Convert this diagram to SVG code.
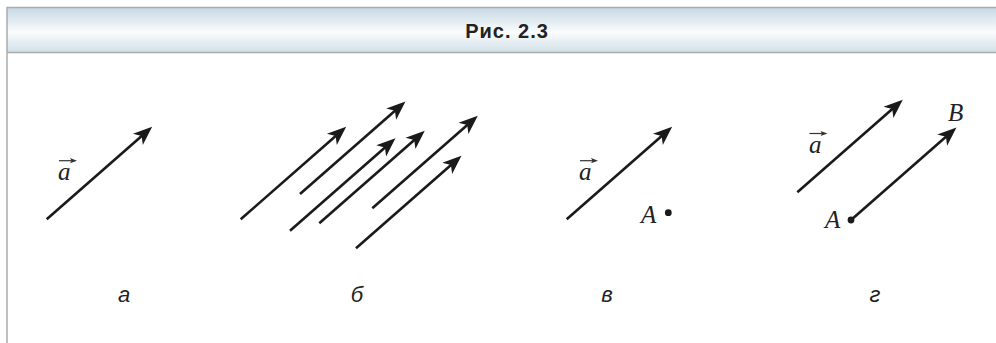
<svg xmlns="http://www.w3.org/2000/svg" width="996" height="343" viewBox="0 0 996 343">
<defs>
<linearGradient id="hdr" x1="0" y1="0" x2="0" y2="1">
<stop offset="0" stop-color="#c6d7e3"/>
<stop offset="0.55" stop-color="#fafcfd"/>
<stop offset="1" stop-color="#d0dee7"/>
</linearGradient>
<marker id="ah" markerUnits="userSpaceOnUse" viewBox="-22 -10 32 20" markerWidth="32" markerHeight="20" refX="-9" refY="0" orient="auto" overflow="visible">
<path d="M0,0 L-19,-7.5 L-14,0 L-19,7.5 Z" fill="#1a1a1a"/>
</marker>
<marker id="sh" markerUnits="userSpaceOnUse" viewBox="-8 -4 10 8" markerWidth="10" markerHeight="8" refX="-3" refY="0" orient="auto" overflow="visible">
<path d="M0,0 L-7,-2.6 L-5.5,0 L-7,2.6 Z" fill="#333"/>
</marker>
<style>
.v{stroke:#1a1a1a;stroke-width:2.6;fill:none;marker-end:url(#ah)}
.o{stroke:#333;stroke-width:1.2;fill:none;marker-end:url(#sh)}
.m{font-family:"Liberation Serif","Times New Roman",serif;font-style:italic;font-size:25px;fill:#222}
.s{font-family:"Liberation Sans",Arial,sans-serif;font-style:italic;font-size:22px;fill:#222}
.t{font-family:"Liberation Sans",Arial,sans-serif;font-weight:bold;font-size:20px;fill:#222;letter-spacing:1px}
</style>
</defs>
<rect x="0" y="0" width="996" height="343" fill="#ffffff"/>
<g id="header">
<rect x="7" y="7" width="989" height="46" fill="url(#hdr)"/>
<line x1="7" y1="7.5" x2="996" y2="7.5" stroke="#a9adb0" stroke-width="1.5"/>
<line x1="7" y1="52.5" x2="996" y2="52.5" stroke="#a9adb0" stroke-width="1.5"/>
<line x1="7" y1="7" x2="7" y2="343" stroke="#a9adb0" stroke-width="1.5"/>
<text class="t" x="507" y="38" text-anchor="middle">Рис. 2.3</text>
</g>
<g id="connectors">
<line class="v" x1="46.7" y1="219.3" x2="145.4" y2="132.8"/>
<line class="v" x1="240.7" y1="219.3" x2="339.4" y2="132.8"/>
<line class="v" x1="300" y1="194" x2="398.7" y2="107.5"/>
<line class="v" x1="290" y1="230.7" x2="388.7" y2="144.2"/>
<line class="v" x1="319.3" y1="223.3" x2="418" y2="136.8"/>
<line class="v" x1="372.3" y1="208.3" x2="471" y2="121.8"/>
<line class="v" x1="356" y1="248.3" x2="454.7" y2="161.8"/>
<line class="v" x1="566.7" y1="219.3" x2="665.4" y2="132.8"/>
<line class="v" x1="797.3" y1="192.3" x2="896" y2="105.8"/>
<line class="v" x1="851" y1="220" x2="949.7" y2="133.5"/>
</g>
<g id="panel-a">
<line class="o" x1="59" y1="160.7" x2="74" y2="160.7"/>
<text class="m" x="58" y="180">a</text>
<text class="s" x="124" y="302" text-anchor="middle">а</text>
</g>
<g id="panel-b">
<text class="s" x="357" y="302" text-anchor="middle">б</text>
</g>
<g id="panel-c">
<line class="o" x1="580" y1="160.7" x2="595" y2="160.7"/>
<text class="m" x="579" y="180">a</text>
<text class="m" x="641" y="222.5">A</text>
<circle cx="668.3" cy="212.7" r="3.4" fill="#1a1a1a"/>
<text class="s" x="607" y="302" text-anchor="middle">в</text>
</g>
<g id="panel-d">
<line class="o" x1="809.5" y1="133.5" x2="824.5" y2="133.5"/>
<text class="m" x="809" y="153.3">a</text>
<text class="m" x="825" y="228">A</text>
<circle cx="851" cy="220" r="3.4" fill="#1a1a1a"/>
<text class="m" x="948" y="120.5">B</text>
<text class="s" x="875" y="302" text-anchor="middle">г</text>
</g>
</svg>
